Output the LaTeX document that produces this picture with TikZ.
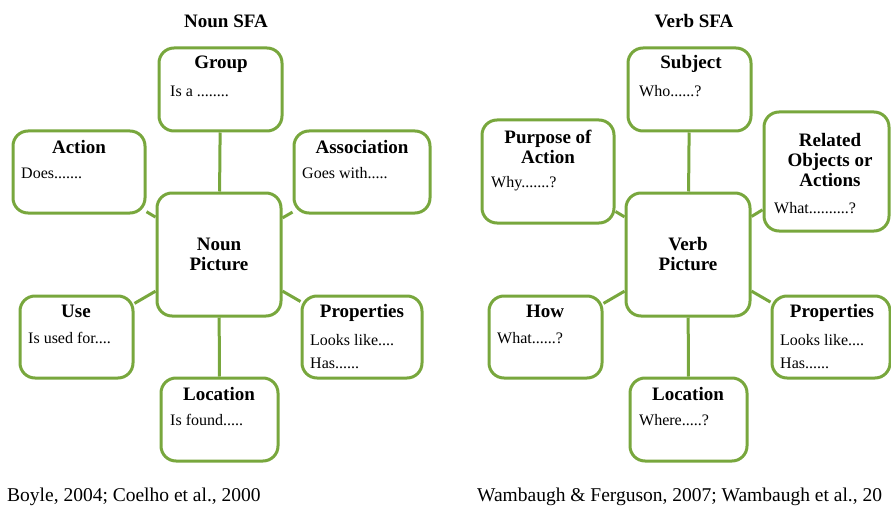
\documentclass[tikz,border=0pt]{standalone}
\usepackage{fontspec}
\setmainfont{Liberation Serif}
\definecolor{sfagreen}{RGB}{120,167,61}
\tikzset{
  sfabox/.style={draw=sfagreen, line width=3pt, rounded corners=15pt, fill=white, inner sep=0pt},
  hd/.style={font=\fontsize{19}{20}\selectfont\bfseries, align=center, inner sep=0pt},
  bd/.style={font=\fontsize{16}{18}\selectfont, anchor=west, inner sep=0pt},
  cite/.style={font=\fontsize{19.5}{21}\selectfont, anchor=west, inner sep=0pt},
  link/.style={draw=sfagreen, line width=3pt}
}
\begin{document}
\begin{tikzpicture}[x=1pt,y=-1pt]
  \useasboundingbox (0,0) rectangle (891,508);
  \clip (0,0) rectangle (891,508);
  % noun side
  \node[hd] (nountitle) at (226,21) {Noun SFA};
  \node[sfabox, minimum width=123pt, minimum height=83pt] (group) at (220.5,89.5) {};
  \node[sfabox, minimum width=132pt, minimum height=82pt] (action) at (79,172) {};
  \node[sfabox, minimum width=136pt, minimum height=82pt] (assoc) at (362,172) {};
  \node[sfabox, minimum width=124pt, minimum height=123pt] (npic) at (219,254.5) {};
  \node[sfabox, minimum width=113pt, minimum height=82pt] (use) at (76.5,337) {};
  \node[sfabox, minimum width=120pt, minimum height=82pt] (nprop) at (362,337) {};
  \node[sfabox, minimum width=117pt, minimum height=83pt] (nloc) at (219.5,419.5) {};
  \node[hd] (grouphd) at (221,64) {Group};
  \node[bd] (groupbd) at (170,91) {Is a ........};
  \node[hd] (actionhd) at (79,147) {Action};
  \node[bd] (actionbd) at (21,173) {Does.......};
  \node[hd] (assochd) at (362,147) {Association};
  \node[bd] (assocbd) at (302,173) {Goes with.....};
  \node[hd] (npichd) at (219,254.5) {Noun\\Picture};
  \node[hd] (usehd) at (76,311) {Use};
  \node[bd] (usebd) at (28,338) {Is used for....};
  \node[hd] (nprophd) at (362,313) {Properties};
  \node[bd] (npropbd) at (310,340) {Looks like....};
  \node[bd] (nprophas) at (310,363) {Has......};
  \node[hd] (nlochd) at (219,394) {Location};
  \node[bd] (nlocbd) at (170,420) {Is found.....};
  % verb side
  \node[hd] (verbtitle) at (694,21) {Verb SFA};
  \node[sfabox, minimum width=123pt, minimum height=83pt] (subj) at (689.5,89.5) {};
  \node[sfabox, minimum width=132pt, minimum height=103pt] (purp) at (548,171.5) {};
  \node[sfabox, minimum width=125pt, minimum height=119pt] (rel) at (826.5,171.5) {};
  \node[sfabox, minimum width=124pt, minimum height=123pt] (vpic) at (688,254.5) {};
  \node[sfabox, minimum width=113pt, minimum height=82pt] (how) at (545.5,337) {};
  \node[sfabox, minimum width=118pt, minimum height=82pt] (vprop) at (831,337) {};
  \node[sfabox, minimum width=117pt, minimum height=83pt] (vloc) at (688.5,419.5) {};
  \node[hd] (subjhd) at (691,64) {Subject};
  \node[bd] (subjbd) at (639,91) {Who......?};
  \node[hd] (purphd) at (548,147) {Purpose of\\Action};
  \node[bd] (purpbd) at (491,184) {Why.......?};
  \node[hd] (relhd) at (830,160) {Related\\Objects or\\Actions};
  \node[bd] (relbd) at (774,208) {What..........?};
  \node[hd] (vpichd) at (688,254.5) {Verb\\Picture};
  \node[hd] (howhd) at (545,311) {How};
  \node[bd] (howbd) at (497,338) {What......?};
  \node[hd] (vprophd) at (832,313) {Properties};
  \node[bd] (vpropbd) at (780,340) {Looks like....};
  \node[bd] (vprophas) at (780,363) {Has......};
  \node[hd] (vlochd) at (688,394) {Location};
  \node[bd] (vlocbd) at (639,420) {Where.....?};
  % sources
  \node[cite] (nouncite) at (7,497) {Boyle, 2004; Coelho et al., 2000};
  \node[cite] (verbcite) at (477,497) {Wambaugh \& Ferguson, 2007; Wambaugh et al., 20};
  \begin{scope}[link]
    \draw (group) -- (npic);
    \draw (action) -- (npic);
    \draw (assoc) -- (npic);
    \draw (use) -- (npic);
    \draw (nprop) -- (npic);
    \draw (nloc) -- (npic);
    \draw (subj) -- (vpic);
    \draw (purp) -- (vpic);
    \draw (rel) -- (vpic);
    \draw (how) -- (vpic);
    \draw (vprop) -- (vpic);
    \draw (vloc) -- (vpic);
  \end{scope}
\end{tikzpicture}
\end{document}
